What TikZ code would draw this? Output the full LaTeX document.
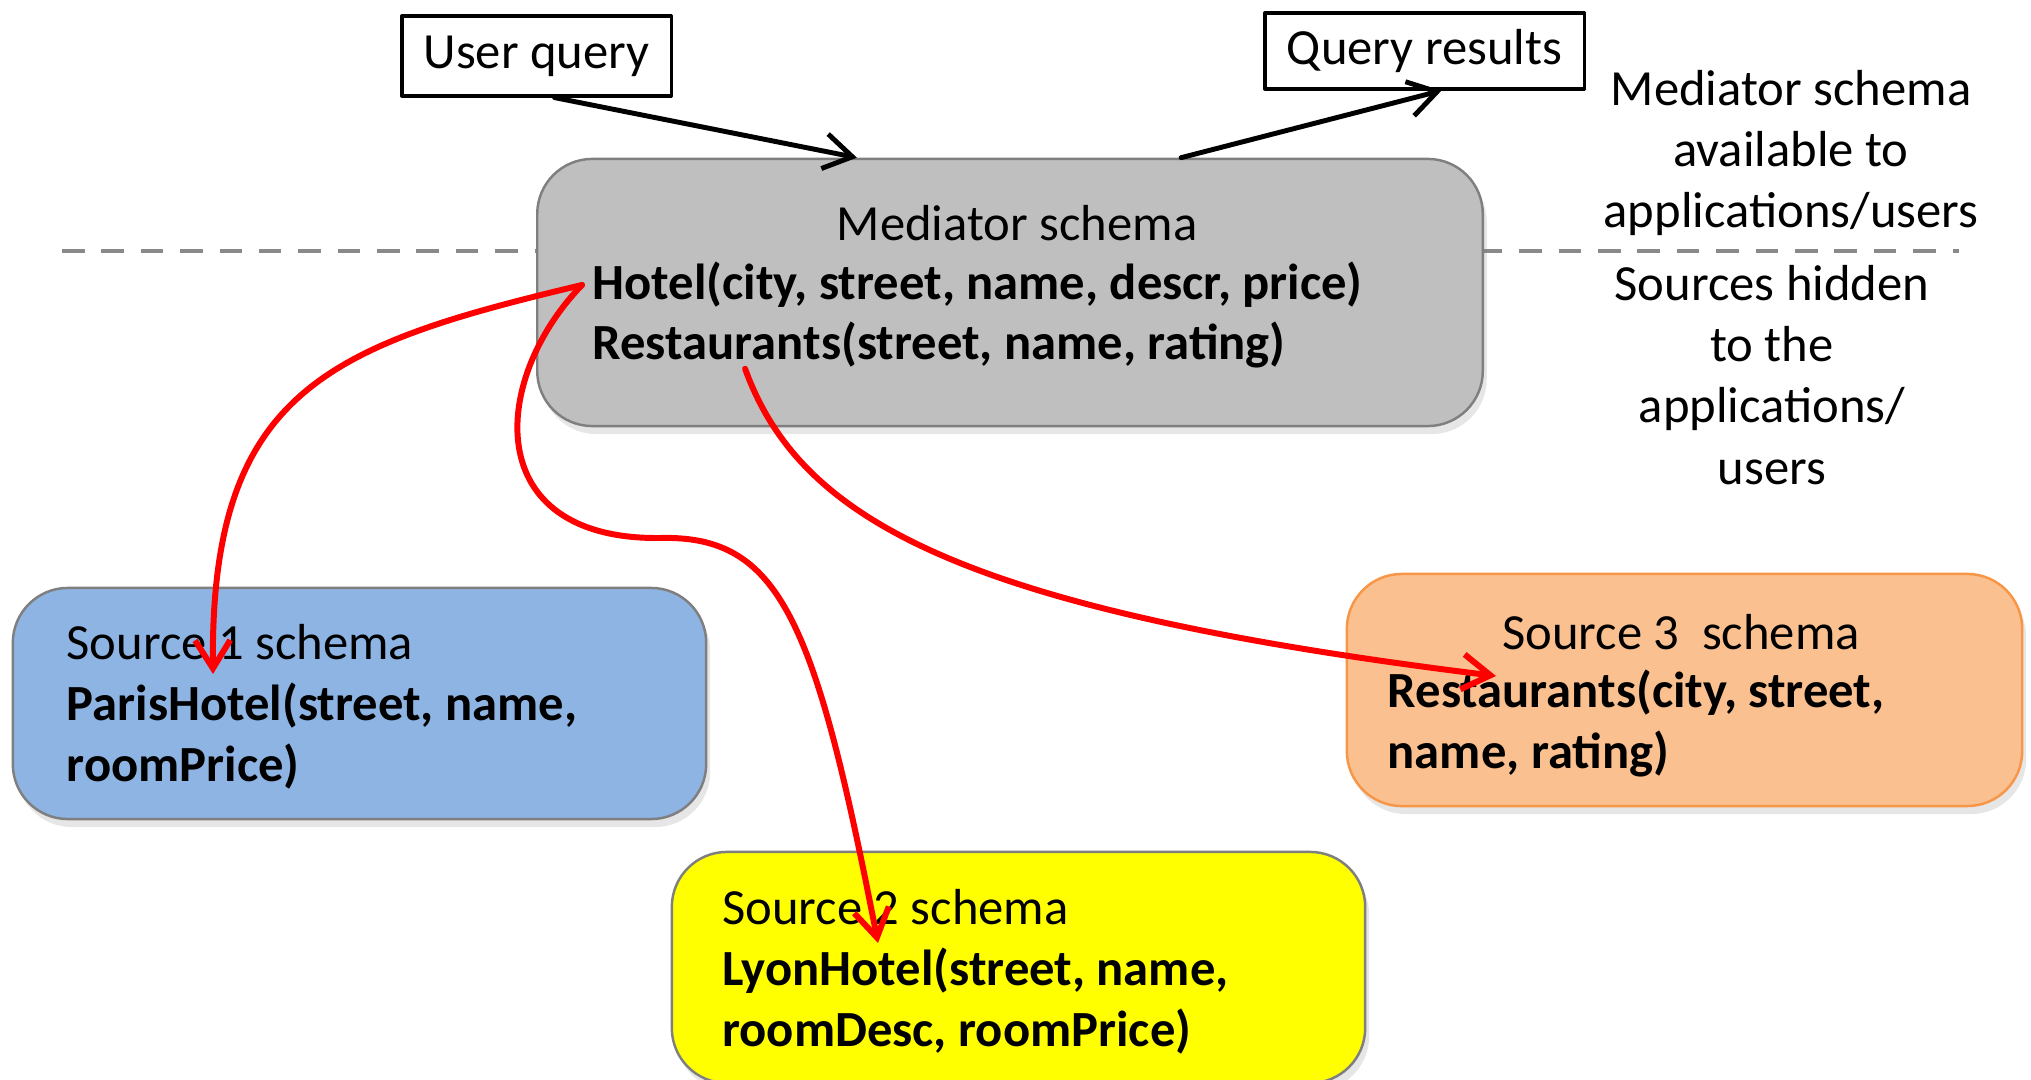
\documentclass[tikz,border=0pt]{standalone}
\usepackage{fontspec}
\setmainfont{Carlito}
\usetikzlibrary{arrows.meta,shadows}
\definecolor{medgray}{HTML}{BFBFBF}
\definecolor{boxline}{HTML}{7F7F7F}
\definecolor{srcblue}{HTML}{8EB4E3}
\definecolor{srcyellow}{HTML}{FFFF00}
\definecolor{srcorange}{HTML}{FAC090}
\definecolor{orangeline}{HTML}{F79646}
\definecolor{sepgray}{HTML}{898989}
\tikzset{
	schemabox/.style={draw=boxline, line width=0.7pt, rounded corners=0.55cm,
		drop shadow={shadow xshift=0.04cm, shadow yshift=-0.08cm, opacity=0.2}},
	labelbox/.style={draw, line width=0.9pt, fill=white},
	txt/.style={inner sep=0pt, align=left},
	sepline/.style={sepgray, line width=1.4pt, line cap=butt, dash pattern=on 6.4pt off 4.8pt},
	flow/.style={->, line width=1.4pt},
	mapto/.style={->, red, line width=1.7pt},
}
\begin{document}
\begin{tikzpicture}[line join = round, line cap = round,>={Straight Barb[length=8pt,width=10pt]},font=\fontsize{14.4pt}{17.4pt}\selectfont,x=0.01cm,y=-0.01cm]
			\useasboundingbox (0,0) rectangle (2031,1080);
			\draw[sepline] (62,251) -- (1959,251);
			% boxes
			\node[schemabox, fill=medgray, minimum width=9.45cm, minimum height=2.67cm] (med) at (1010,292.5) {};
			\node[schemabox, fill=srcblue, minimum width=6.93cm, minimum height=2.31cm] (src1) at (359.5,703.5) {};
			\node[schemabox, fill=srcyellow, minimum width=6.93cm, minimum height=2.31cm] (src2) at (1018.5,967.5) {};
			\node[schemabox, draw=orangeline, fill=srcorange, minimum width=6.75cm, minimum height=2.32cm] (src3) at (1684.5,690) {};
			\node[labelbox, minimum width=2.69cm, minimum height=0.8cm] (uq) at (536.5,56) {User query};
			\node[labelbox, minimum width=3.19cm, minimum height=0.76cm] (qr) at (1424.5,51) {Query results};
			% texts
			\node[txt] (medtitle) at (1017,223) {Mediator schema};
			\node[txt, anchor=west] (hotel) at (592,285) {\textbf{Hotel(city, street, name, descr, price)}};
			\node[txt, anchor=west] (rest) at (592,345) {\textbf{Restaurants(street, name, rating)}};
			\node[txt, anchor=west] (src1text) at (66,706.5) {Source 1 schema\\\textbf{ParisHotel(street, name,}\\\textbf{roomPrice)}};
			\node[txt, anchor=west] (src2text) at (721.5,972) {Source 2 schema\\\textbf{LyonHotel(street, name,}\\\textbf{roomDesc, roomPrice)}};
			\node[txt] (src3title) at (1681,632) {Source 3\ \ schema};
			\node[txt, anchor=west] (src3text) at (1387,723.5) {\textbf{Restaurants(city, street,}\\\textbf{name, rating)}};
			\node[txt, align=center] (pubnote) at (1791,153) {Mediator schema\\available to\\applications/users};
			\node[txt, align=center] (hidnote) at (1772,375) {Sources hidden\\to the\\applications/\\users};
			% query flow
			\draw[flow] ([xshift=0.18cm]uq.south) -- ([xshift=-1.53cm]med.north);
			\draw[flow] ([xshift=1.71cm]med.north) -- ([xshift=0.17cm]qr.south);
			% mappings to the sources
			\coordinate (s1end) at (213,674);
			\coordinate (s2end) at (878,943);
			\coordinate (s3end) at (1496,676);
			\draw[mapto] ([xshift=-0.1cm]hotel.west) .. controls (330,345) and (210,390) .. (s1end);
			\draw[mapto] ([xshift=-0.1cm]hotel.west) .. controls (490,380) and (480,540) .. (660,538) .. controls (780,535) and (815,620) .. (s2end);
			\draw[mapto] ([xshift=1.53cm]rest.south west) .. controls (800,520) and (960,610) .. (s3end);
		\end{tikzpicture}
\end{document}
